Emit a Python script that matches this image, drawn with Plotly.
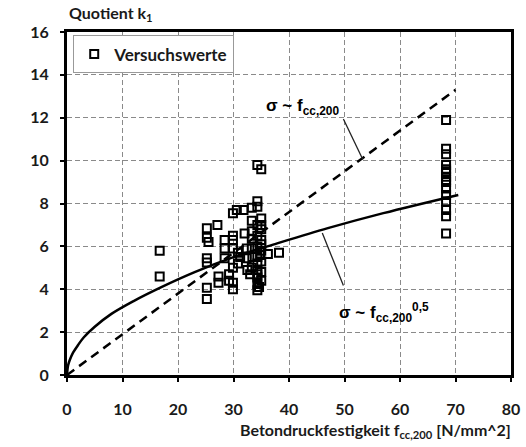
import plotly.graph_objects as go

# Versuchswerte
versuch_x = [16.7, 16.7,
             25.2, 25.2, 25.5, 25.2, 25.2, 25.2, 25.2,
             27.1, 27.3, 27.3,
             28.4, 28.4, 28.4, 29.2, 29.2,
             29.9, 29.9, 29.9, 29.9, 29.9, 29.9, 29.9,
             30.8, 30.8, 31.2, 30.6,
             31.8, 32.4, 32.4, 32.0, 32.5,
             33.3, 33.3, 33.3, 33.3, 33.3, 33.3, 33.0, 33.4,
             34.3, 34.3, 34.3, 34.3, 34.3, 34.3, 34.3, 34.3, 34.3, 34.3, 34.3, 34.3, 34.3,
             35.0, 35.0, 35.0, 35.0, 35.0, 35.0, 35.0, 35.0, 35.0, 35.0, 34.8, 34.6,
             36.2, 38.2,
             68.3, 68.3, 68.3, 68.3, 68.3, 68.3, 68.3, 68.3, 68.3, 68.3, 68.3, 68.3, 68.3, 68.3, 68.3]
versuch_y = [5.8, 4.6,
             6.85, 6.4, 6.2, 5.45, 5.25, 4.07, 3.55,
             7.0, 4.6, 4.3,
             6.3, 5.9, 5.45, 4.7, 4.4,
             6.3, 6.5, 5.9, 5.0, 4.3, 4.0, 7.55,
             5.7, 5.2, 5.5, 7.7,
             7.7, 5.9, 5.45, 6.6, 4.9,
             7.8, 6.7, 6.35, 5.9, 5.0, 7.2, 4.7, 5.5,
             8.1, 9.8, 7.85, 4.7, 4.55, 4.25, 3.95, 6.0, 6.5, 5.5, 5.2, 4.9, 7.0,
             9.6, 7.3, 6.8, 6.3, 7.0, 5.8, 5.3, 4.8, 4.4, 6.1, 5.6, 4.1,
             5.65, 5.7,
             11.9, 10.55, 10.3, 9.8, 9.6, 9.5, 9.25, 9.1, 9.0, 8.7, 8.4, 8.1, 7.7, 7.4, 6.6]

# sigma ~ fcc,200 (dashed line)
lin_x = [0, 70]
lin_y = [0, 13.3]

# sigma ~ fcc,200^0,5 (solid curve)
sq_x = [0, 0.2, 0.5, 1, 2, 3, 5, 8, 12, 17, 23, 30, 38, 47, 57, 70.5]
sq_y = [0, 0.45, 0.7, 1.0, 1.4, 1.75, 2.25, 2.85, 3.45, 4.1, 4.8, 5.5, 6.15, 6.85, 7.55, 8.4]

x_ticks = [0, 10, 20, 30, 40, 50, 60, 70, 80]
y_ticks = [0, 2, 4, 6, 8, 10, 12, 14, 16]

TICKFONT = dict(family="Lato", size=16, color="#1a1a1a", weight="bold")
LBLFONT = dict(family="Liberation Sans", size=17, color="black")

fig = go.Figure()
fig.add_trace(go.Scatter(x=sq_x, y=sq_y, mode="lines", line=dict(color="black", width=2.5, shape="spline"),
                         showlegend=False, hoverinfo="skip"))
fig.add_trace(go.Scatter(x=lin_x, y=lin_y, mode="lines", line=dict(color="black", width=2.5, dash="9px,6px"),
                         showlegend=False, hoverinfo="skip"))
fig.add_trace(go.Scatter(x=versuch_x, y=versuch_y, mode="markers", name="Versuchswerte",
                         marker=dict(symbol="square-open", size=8, color="black", line=dict(width=2, color="black"))))

axis_common = dict(showline=True, linewidth=3, linecolor="black", mirror=True,
                   showgrid=True, gridcolor="#8a8a8a", gridwidth=1, griddash="5px,3px",
                   zeroline=False, ticks="outside", ticklen=4, tickwidth=2, tickcolor="black",
                   tickfont=TICKFONT, automargin=False)

fig.update_xaxes(range=[0, 80], tickvals=x_ticks, ticklabelstandoff=14, **axis_common)
fig.update_yaxes(range=[0, 16], tickvals=y_ticks, ticklabelstandoff=8, **axis_common)

# leader lines
fig.add_shape(type="line", xref="x", yref="y", x0=49.8, y0=11.94, x1=53.3, y1=10.05,
              line=dict(color="#222", width=1.3))
fig.add_shape(type="line", xref="x", yref="y", x0=46.0, y0=6.62, x1=49.8, y1=4.17,
              line=dict(color="#222", width=1.3))

fig.add_annotation(x=49.4, y=12.5, xref="x", yref="y", xanchor="right", yanchor="middle",
                   text="<b>σ ~ f<sub>cc,200</sub></b>", showarrow=False, font=LBLFONT)
fig.add_annotation(x=48.6, y=2.9, xref="x", yref="y", xanchor="left", yanchor="middle",
                   text="<b>σ ~ f<sub>cc,200</sub><sup>0,5</sup></b>", showarrow=False, font=LBLFONT)

fig.add_annotation(x=1.005, y=-0.125, xref="paper", yref="paper", xanchor="right", yanchor="top",
                   text="<b>Betondruckfestigkeit f<sub>cc,200</sub> [N/mm^2]</b>", showarrow=False,
                   font=dict(family="Lato", size=16, color="#1a1a1a"))
fig.add_annotation(x=0.0, y=1.055, xref="paper", yref="paper", xanchor="left", yanchor="middle",
                   text="<b>Quotient k<sub>1</sub></b>", showarrow=False,
                   font=dict(family="Lato", size=16, color="#1a1a1a"))

fig.update_layout(
    width=526, height=447,
    margin=dict(l=67, r=15, t=32, b=72),
    paper_bgcolor="white", plot_bgcolor="white",
    showlegend=True,
    legend=dict(x=0.014, y=0.99, xanchor="left", yanchor="top",
                bgcolor="white", bordercolor="#999", borderwidth=1,
                font=dict(family="Lato", size=17, color="#1a1a1a", weight="bold"),
                itemwidth=30),
)

fig.write_html("out.html", config={"displayModeBar": False},
               post_script="document.body.style.margin='0px';document.body.style.overflow='hidden';")
